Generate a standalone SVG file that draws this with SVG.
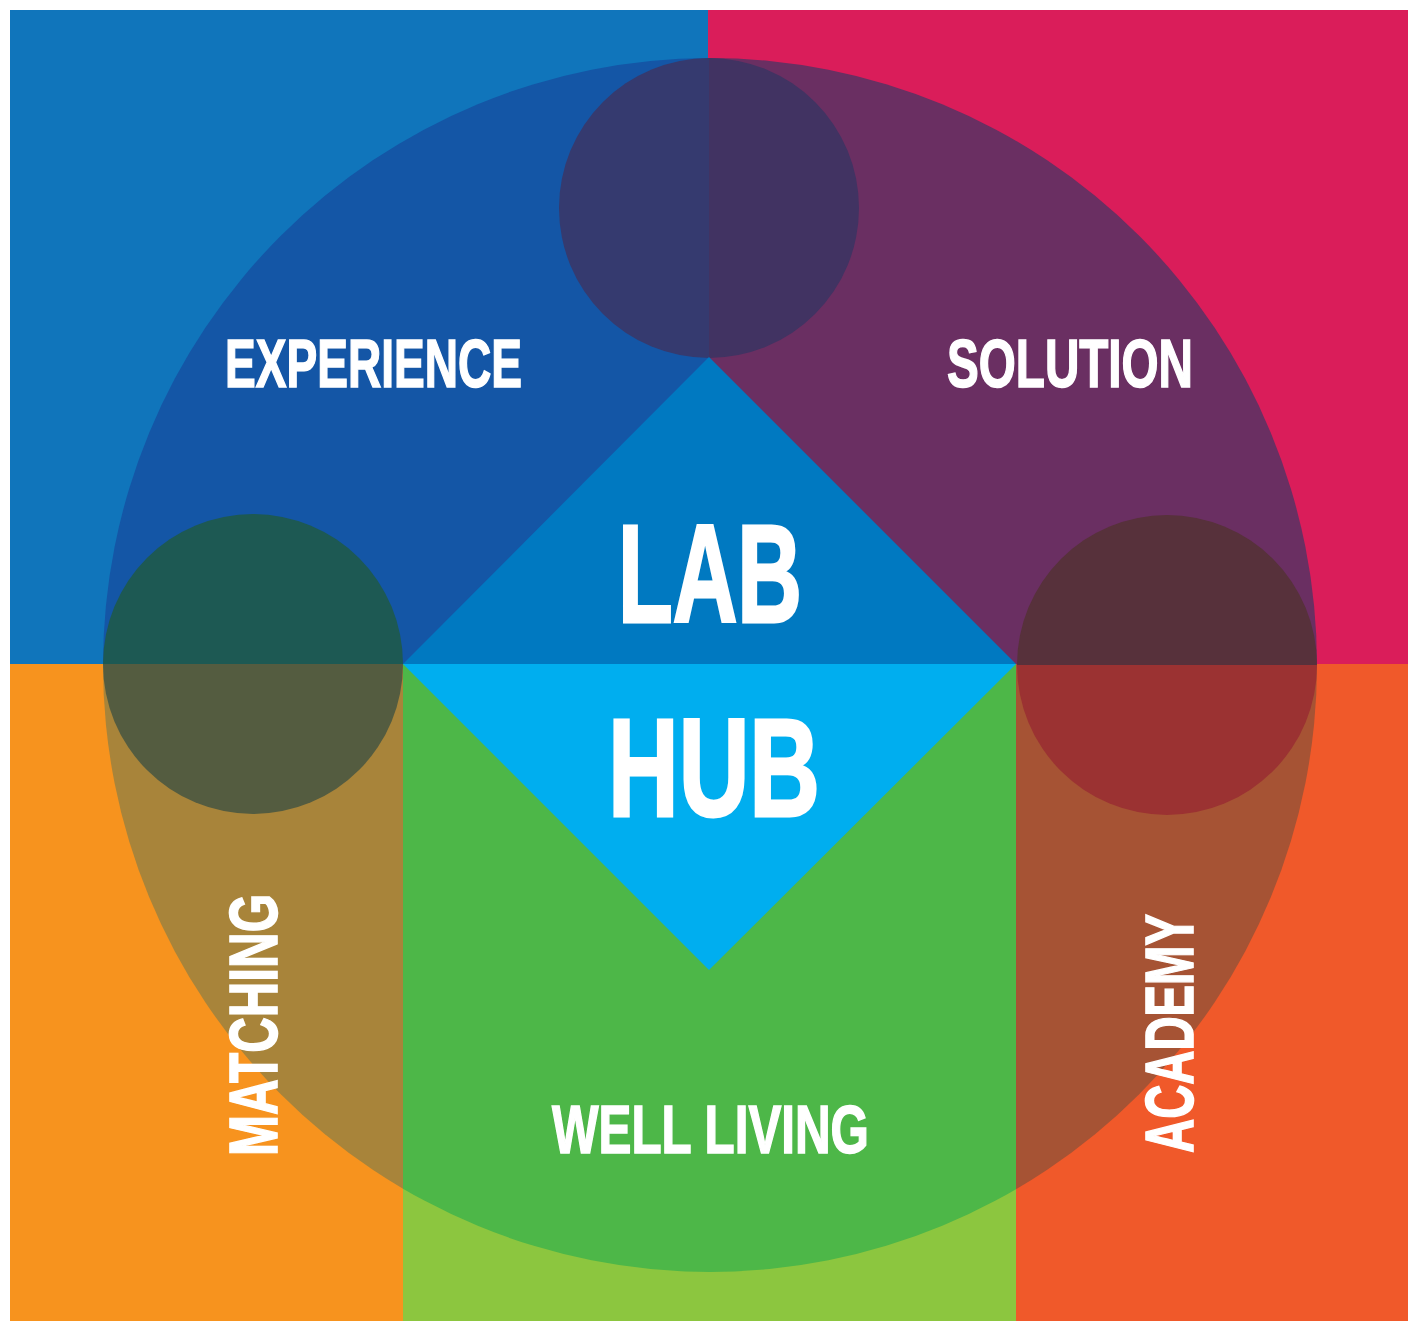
<svg xmlns="http://www.w3.org/2000/svg" xmlns:xlink="http://www.w3.org/1999/xlink" width="1408" height="1321" viewBox="0 0 1408 1321">
<style>
.lbl{font-family:"Liberation Sans Narrow","Liberation Sans",Arial,sans-serif;font-weight:bold;fill:#ffffff;stroke:#ffffff;stroke-linejoin:miter}
.m{font-size:69px;stroke-width:1.6px}
.b{font-size:139px;stroke-width:3px}
</style>
<defs>
<circle id="big" cx="710" cy="665" r="607"/>
<clipPath id="cTL"><rect x="10" y="10" width="698" height="654"/></clipPath>
<clipPath id="cTR"><rect x="708" y="10" width="700" height="654"/></clipPath>
<clipPath id="cBL"><rect x="10" y="664" width="393" height="657"/></clipPath>
<clipPath id="cBM"><rect x="403" y="664" width="613" height="657"/></clipPath>
<clipPath id="cBR"><rect x="1016" y="664" width="392" height="657"/></clipPath>
</defs>
<rect width="1408" height="1321" fill="#ffffff"/>
<g id="experience">
<rect x="10" y="10" width="698" height="654" fill="#1075BB"/>
<use xlink:href="#big" fill="#1456A6" clip-path="url(#cTL)"/>
<text class="lbl m" x="225" y="387" textLength="297" lengthAdjust="spacingAndGlyphs">EXPERIENCE</text>
</g>
<g id="solution">
<rect x="708" y="10" width="700" height="654" fill="#DA1D5A"/>
<use xlink:href="#big" fill="#6A2F62" clip-path="url(#cTR)"/>
<text class="lbl m" x="947" y="387" textLength="246" lengthAdjust="spacingAndGlyphs">SOLUTION</text>
</g>
<g id="matching">
<rect x="10" y="664" width="393" height="657" fill="#F7931E"/>
<use xlink:href="#big" fill="#A8843A" clip-path="url(#cBL)"/>
</g>
<g id="well-living">
<rect x="403" y="664" width="613" height="657" fill="#8CC63F"/>
<use xlink:href="#big" fill="#4DB748" clip-path="url(#cBM)"/>
<text class="lbl m" x="552" y="1153" textLength="317" lengthAdjust="spacingAndGlyphs">WELL LIVING</text>
</g>
<g id="academy">
<rect x="1016" y="664" width="392" height="657" fill="#F0592A"/>
<use xlink:href="#big" fill="#A65334" clip-path="url(#cBR)"/>
</g>
<g id="circle-top">
<path d="M709,58 A150,150 0 0 0 709,358 Z" fill="#353A6F"/>
<path d="M709,58 A150,150 0 0 1 709,358 Z" fill="#413362"/>
</g>
<g id="circle-left">
<path d="M103,664 A150,150 0 0 1 403,664 Z" fill="#1D5953"/>
<path d="M103,664 A150,150 0 0 0 403,664 Z" fill="#545C40"/>
</g>
<g id="circle-right">
<path d="M1017,665 A150,150 0 0 1 1317,665 Z" fill="#57313B"/>
<path d="M1017,665 A150,150 0 0 0 1317,665 Z" fill="#9B3232"/>
</g>
<g id="lab-hub">
<path d="M403,664 L709,357 L1016,664 Z" fill="#0079C1"/>
<path d="M403,664 L1016,664 L709,970 Z" fill="#00AEEF"/>
<text class="lbl b" x="618" y="622" textLength="184" lengthAdjust="spacingAndGlyphs">LAB</text>
<text class="lbl b" x="608" y="816" textLength="212" lengthAdjust="spacingAndGlyphs">HUB</text>
</g>
<g id="vertical-labels">
<text class="lbl m" transform="translate(277,1156) rotate(-90)" x="0" y="0" textLength="262" lengthAdjust="spacingAndGlyphs">MATCHING</text>
<text class="lbl m" transform="translate(1193,1153) rotate(-90)" x="0" y="0" textLength="239" lengthAdjust="spacingAndGlyphs">ACADEMY</text>
</g>
<g id="connectors"/>
</svg>
